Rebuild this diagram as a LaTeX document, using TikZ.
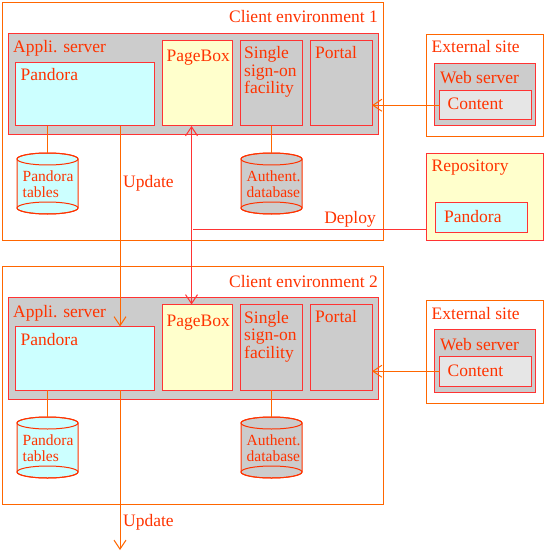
\documentclass[tikz,border=0pt]{standalone}
\usepackage{fontspec}
\setmainfont{Liberation Serif}
\usetikzlibrary{arrows.meta}
\definecolor{orng}{RGB}{255,102,0}
\definecolor{redb}{RGB}{255,51,51}
\definecolor{txtc}{RGB}{255,51,0}
\definecolor{grayf}{RGB}{204,204,204}
\definecolor{cyanf}{RGB}{204,255,255}
\definecolor{yelf}{RGB}{255,255,204}
\definecolor{lgrf}{RGB}{230,230,230}
\tikzset{
  boxbase/.style={inner sep=0pt, outer sep=0pt, anchor=north west, line width=1pt},
  envbox/.style={boxbase, draw=orng, fill=white},
  srvbox/.style={boxbase, draw=redb, fill=grayf},
  pandbox/.style={boxbase, draw=redb, fill=cyanf},
  pagebox/.style={boxbase, draw=redb, fill=yelf},
  contbox/.style={boxbase, draw=redb, fill=lgrf},
  lbl/.style={inner sep=0pt, anchor=base west, text=txtc, font=\fontsize{17.5}{18}\selectfont},
  lblr/.style={lbl, anchor=base east},
  clbl/.style={lbl, font=\fontsize{15.5}{16}\selectfont},
  conn/.style={line width=1pt},
  tip/.style={conn, -{Straight Barb[length=9pt,width=12pt]}},
  dtip/.style={conn, {Straight Barb[length=9pt,width=12pt]}-{Straight Barb[length=9pt,width=12pt]}},
}
\newcommand\bx[6]{\node[#1, minimum width={(#4)-(#2)}, minimum height={(#5)-(#3)}] (#6) at (#2,#3) {};}
\newcommand\cyl[4]{%
  \node[inner sep=0pt, outer sep=0pt, minimum width=61pt, minimum height=61pt, anchor=north west] (#1) at (#2,#3) {};
  \path[fill=#4, draw=txtc, line width=1pt] ([yshift=-6pt]#1.north west) -- ([yshift=6pt]#1.south west)
     arc[start angle=180, end angle=360, x radius=30.5pt, y radius=6pt]
     -- ([yshift=-6pt]#1.north east)
     arc[start angle=0, end angle=180, x radius=30.5pt, y radius=6pt] -- cycle;
  \draw[txtc, line width=1pt] ([yshift=-6pt]#1.north) ellipse[x radius=30.5pt, y radius=6pt];
  \draw[txtc, line width=1pt] ([yshift=6pt]#1.south) ellipse[x radius=30.5pt, y radius=6pt];
}
\newcommand\clientenv[3]{%
\begin{scope}[shift={(0,#2)}]
  \bx{envbox}{2.5}{2.5}{383}{240}{env#1}
  \node[lblr] (envt#1) at (378,23) {Client environment #3};
  \bx{srvbox}{8.5}{33.5}{378.5}{135}{app#1}
  \node[lbl] (appt#1) at (13,53) {Appli. server};
  \bx{pandbox}{15.5}{62.5}{154.5}{126}{pan#1}
  \node[lbl] (pant#1) at (20.5,81) {Pandora};
  \bx{pagebox}{162.5}{40.5}{232}{126}{pgb#1}
  \node[lbl] (pgbt#1) at (166.5,62) {PageBox};
  \bx{srvbox}{240.5}{40.5}{302}{126}{sso#1}
  \node[lbl] (ssoa#1) at (244,59) {Single};
  \node[lbl] (ssob#1) at (244,76.5) {sign-on};
  \node[lbl] (ssoc#1) at (244,94) {facility};
  \bx{srvbox}{310.5}{40.5}{372}{126}{por#1}
  \node[lbl] (port#1) at (315,58.5) {Portal};
  \cyl{cpt#1}{17}{153}{cyanf}
  \node[clbl] (cpta#1) at (22.5,181.5) {Pandora};
  \node[clbl] (cptb#1) at (22.5,197) {tables};
  \cyl{cad#1}{241}{153}{grayf}
  \node[clbl] (cada#1) at (246.5,181.5) {Authent.};
  \node[clbl] (cadb#1) at (246.5,197) {database};
  \draw[conn, orng] (pan#1.south -| cpt#1.north) -- (cpt#1.north);
  \draw[conn, orng] (sso#1.south -| cad#1.north) -- (cad#1.north);
\end{scope}}
\newcommand\extsite[2]{%
\begin{scope}[shift={(0,#2)}]
  \bx{envbox}{426.5}{34.5}{543}{137}{ext#1}
  \node[lbl] (extt#1) at (431.5,53) {External site};
  \bx{srvbox}{434.5}{63.5}{535.5}{126}{web#1}
  \node[lbl] (webt#1) at (440,84) {Web server};
  \bx{contbox}{439.5}{90.5}{531.5}{120}{cont#1}
  \node[lbl] (contt#1) at (447.5,110) {Content};
\end{scope}}
\begin{document}
\begin{tikzpicture}[x=1pt, y=-1pt]
  \useasboundingbox (0,0) rectangle (547,553);
  \clientenv{1}{0}{1}
  \clientenv{2}{264}{2}
  \extsite{1}{0}
  \extsite{2}{266}
  \bx{boxbase, draw=redb, fill=yelf}{426.5}{153.5}{543}{240}{repo}
  \node[lbl] (repot) at (431.5,171.5) {Repository};
  \bx{pandbox}{435.5}{202.5}{527.5}{232}{rpan}
  \node[lbl] (rpant) at (444,222.5) {Pandora};
  % connectors
  \coordinate (updx) at (120,0);
  \coordinate (pgx) at (191.5,0);
  \draw[tip, orng] (pan1.south -| updx) -- (pan2.north -| updx);
  \draw[dtip, redb] (pgb1.south -| pgx) -- (pgb2.north -| pgx);
  \coordinate (dep) at (193,229);
  \draw[conn, redb] (dep) -- (dep -| repo.west);
  \draw[tip, orng] (cont1.west) -- (cont1.west -| por1.east);
  \draw[tip, orng] (cont2.west) -- (cont2.west -| por2.east);
  \coordinate (updend) at (120,550);
  \draw[tip, orng] (pan2.south -| updend) -- (updend);
  \node[lbl] (updt1) at (123,188) {Update};
  \node[lblr] (dept) at (376,223) {Deploy};
  \node[lbl] (updt2) at (123,526.5) {Update};
\end{tikzpicture}
\end{document}
